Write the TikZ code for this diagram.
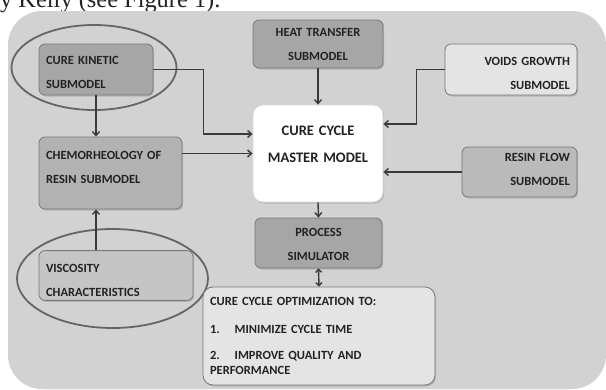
\documentclass[tikz,border=0pt]{standalone}
\usepackage{fontspec}
\setmainfont{Carlito}[BoldFont={Carlito Bold}]
\newfontfamily\bodyfont{Liberation Serif}
\usetikzlibrary{arrows.meta,shadows}
\definecolor{panel}{HTML}{D2D2D2}
\definecolor{edge}{HTML}{787878}
\definecolor{ring}{HTML}{656565}
\definecolor{wire}{HTML}{3A3A3A}
\definecolor{ink}{HTML}{222222}
\definecolor{darkbox}{HTML}{A6A6A6}
\definecolor{midbox}{HTML}{B2B2B2}
\definecolor{lightbox}{HTML}{E4E4E4}

\begin{document}
\begin{tikzpicture}[x=1pt, y=-1pt, >={Straight Barb[length=4pt,width=7pt]},
  font=\fontsize{12.5}{24}\selectfont\bfseries, text=ink,
  box/.style={draw=edge, line width=0.8pt, rounded corners=6pt, inner xsep=7pt,
    drop shadow={shadow xshift=1.2pt, shadow yshift=-1.5pt, opacity=0.35}},
  subl/.style={box, align=left},
  subr/.style={box, align=right},
  subc/.style={box, align=center},
  link/.style={->, draw=wire, line width=1.4pt},
  ring/.style={draw=ring, line width=1.8pt}]

  \useasboundingbox (0,0) rectangle (606,389);

  % ---- page text and grey panel ----
  \node[anchor=base west, inner sep=0pt, font=\bodyfont\fontsize{24.4}{28}\selectfont]
    (caption) at (0,7) {y Kelly (see Figure 1).};
  \fill[panel, rounded corners=34pt] (8,11) rectangle (606,389);

  % ---- rings around the two input submodels ----
  \draw[ring] (94,67.5) ellipse [x radius=82.5, y radius=42.5];
  \draw[ring] (112.5,278.5) ellipse [x radius=95.5, y radius=49.5];

  % ---- left column (empty \mbox lines nudge the text inside the box) ----
  \node[subl, fill=darkbox, text width=100pt, minimum height=51pt] (kin) at (96,69.5)
    {\mbox{}\\[-9pt]CURE KINETIC\\SUBMODEL};
  \node[subl, fill=midbox, text width=129pt, minimum height=72pt] (chem) at (110.5,173)
    {CHEMORHEOLOGY OF\\RESIN SUBMODEL\\[-13pt]\mbox{}};
  \node[subl, fill=panel!94!black, text width=140pt, minimum height=49pt] (visc) at (116,275.5)
    {\mbox{}\\[-5pt]VISCOSITY\\CHARACTERISTICS};

  % ---- centre column ----
  \node[subc, fill=darkbox, text width=116pt, minimum height=48pt] (heat) at (318,44)
    {HEAT TRANSFER\\SUBMODEL};
  \node[subc, fill=white, draw=white!85!black, rounded corners=10pt, text width=116pt,
    minimum height=97pt, font=\fontsize{14.5}{27}\selectfont\bfseries] (master) at (318,153.5)
    {CURE CYCLE\\MASTER MODEL\\[-8pt]\mbox{}};
  \node[subc, fill=darkbox, text width=113pt, minimum height=50pt] (proc) at (318.5,243)
    {\mbox{}\\[-12pt]PROCESS\\SIMULATOR};
  \node[subl, fill=lightbox, rounded corners=10pt, text width=218pt, minimum height=98pt,
    font=\fontsize{12.5}{15}\selectfont\bfseries] (opt) at (319,336)
    {CURE CYCLE OPTIMIZATION TO:\\[12.5pt]
     1.\hspace{15pt}MINIMIZE CYCLE TIME\\[11pt]
     2.\hspace{15pt}IMPROVE QUALITY AND\\
     PERFORMANCE};

  % ---- right column ----
  \node[subr, fill=lightbox, text width=118pt, minimum height=51pt] (voids) at (511,69.5)
    {\mbox{}\\[-7pt]VOIDS GROWTH\\SUBMODEL};
  \node[subr, fill=midbox!90!white, text width=101pt, minimum height=50pt] (resin) at (519.5,172)
    {RESIN FLOW\\SUBMODEL\\[-18pt]\mbox{}};

  % ---- connectors ----
  \draw[link] (kin.south) -- (kin.south |- chem.north);
  \draw[link] (visc.north -| kin.south) -- (chem.south -| kin.south);
  \draw[link] (kin.east) -- ++(50,0) |- ([yshift=19.5pt]master.west);
  \draw[link] (chem.east |- master.west) -- (master.west);
  \draw[link] (heat.south) -- (master.north);
  \draw[link] (voids.west) -- ++(-28,0) |- ([yshift=29.5pt]master.east);
  \draw[link] (resin.west) -- (resin.west -| master.east);
  \draw[link] (master.south) -- (proc.north);
  \draw[link, <->, >={Straight Barb[length=3pt,width=6pt]}] (proc.south) -- (opt.north);

\end{tikzpicture}
\end{document}
